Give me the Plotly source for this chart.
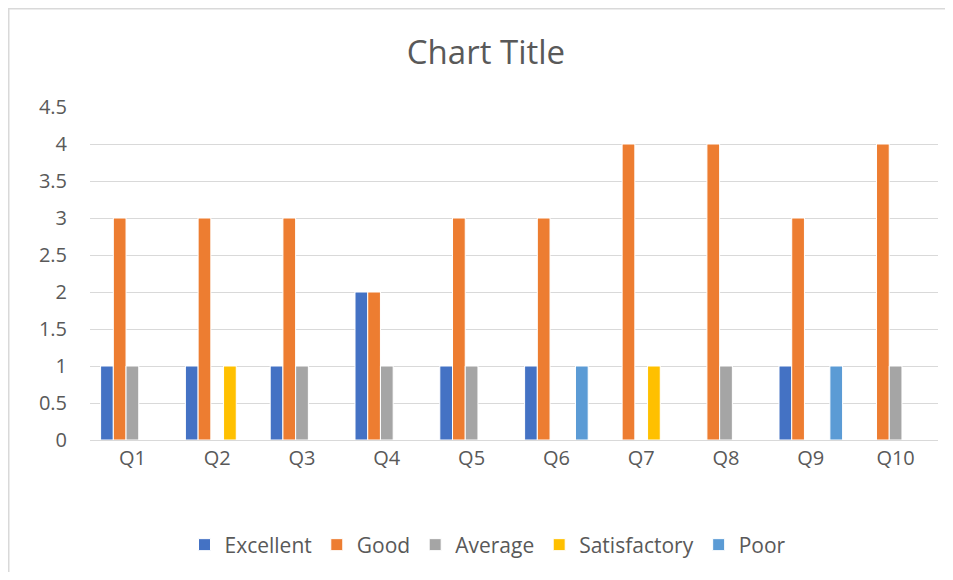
import plotly.graph_objects as go

categories = ["Q1", "Q2", "Q3", "Q4", "Q5", "Q6", "Q7", "Q8", "Q9", "Q10"]
excellent = [1, 1, 1, 2, 1, 1, 0, 0, 1, 0]
good = [3, 3, 3, 2, 3, 3, 4, 4, 3, 4]
average = [1, 0, 1, 1, 1, 0, 0, 1, 0, 1]
satisfactory = [0, 1, 0, 0, 0, 0, 1, 0, 0, 0]
poor = [0, 0, 0, 0, 0, 1, 0, 0, 1, 0]

series = [
    ("Excellent", excellent, "#4472C4"),
    ("Good", good, "#ED7D31"),
    ("Average", average, "#A5A5A5"),
    ("Satisfactory", satisfactory, "#FFC000"),
    ("Poor", poor, "#5B9BD5"),
]

FONT = "'Open Sans', Lato, sans-serif"
TXT = "#595959"

fig = go.Figure()
for name, vals, color in series:
    fig.add_trace(go.Bar(
        x=categories, y=vals, name=name,
        marker=dict(color=color, line=dict(color="white", width=1)),
    ))

# page body adds an 8px margin; figure coordinates are compensated
W, H = 937, 564
L, R, T, B = 82, 7, 99, 132
pw, ph = W - L - R, H - T - B

def px_x(x):
    return (x - L) / pw

def px_y(y):
    return (H - B - y) / ph

fig.update_layout(
    width=W, height=H,
    margin=dict(l=L, r=R, t=T, b=B),
    paper_bgcolor="white", plot_bgcolor="white",
    barmode="group", bargap=0.25, bargroupgap=0,
    font=dict(family=FONT, color=TXT, size=20),
    title=dict(text="Chart Title", x=478 / W, xref="container",
               xanchor="center", y=1 - 44 / H, yref="container", yanchor="middle",
               font=dict(size=33, color=TXT, family=FONT)),
    showlegend=True,
    legend=dict(orientation="h", x=px_x(480), xanchor="center",
                y=px_y(537), yanchor="middle",
                font=dict(size=21, color=TXT, family=FONT),
                itemwidth=30, tracegroupgap=0),
    xaxis=dict(showgrid=False, showline=True, linecolor="#D9D9D9", linewidth=1,
               ticks="", tickfont=dict(size=20, color=TXT), ticklabelstandoff=0),
    yaxis=dict(range=[0, 4.5], dtick=0.5, showgrid=True, gridcolor="#D9D9D9",
               gridwidth=1, zeroline=False, showline=False, ticks="",
               tickfont=dict(size=20, color=TXT), ticklabelstandoff=22),
    shapes=[
        dict(type="line", xref="paper", yref="paper",
             x0=px_x(0.5), x1=px_x(0.5), y0=px_y(0), y1=px_y(H),
             line=dict(color="#D9D9D9", width=2), layer="below"),
        dict(type="line", xref="paper", yref="paper",
             x0=px_x(0), x1=px_x(W), y0=px_y(0.5), y1=px_y(0.5),
             line=dict(color="#D9D9D9", width=2), layer="below"),
    ],
)

fig.write_html("out.html")
